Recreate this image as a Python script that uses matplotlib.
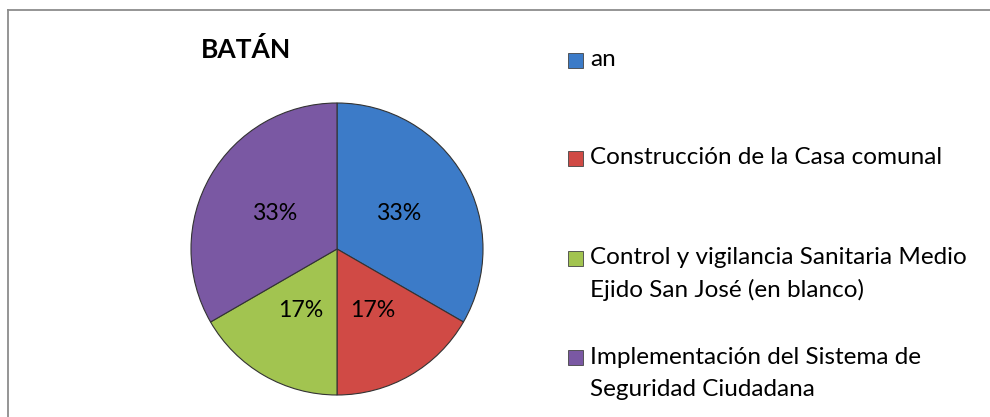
import matplotlib
matplotlib.use("Agg")
import matplotlib.pyplot as plt
from matplotlib.patches import Rectangle
from matplotlib.lines import Line2D

plt.rcParams['font.family'] = ['Lato', 'DejaVu Sans']

title = "BATÁN"
categories = [
    "an",
    "Construcción de la Casa comunal",
    "Control y vigilancia Sanitaria Medio\nEjido San José (en blanco)",
    "Implementación del Sistema de\nSeguridad Ciudadana",
]
values = [2, 1, 1, 2]
colors = ["#3C7BC8", "#D04A45", "#A2C450", "#7A58A3"]

W, H = 990, 417
fig = plt.figure(figsize=(W / 100, H / 100), dpi=100)

# border (top and left visible)
fig.add_artist(Line2D([8 / W, 8 / W], [0, 1 - 10 / H], color="#8c8c8c", lw=1.3))
fig.add_artist(Line2D([8 / W, 1], [1 - 10 / H, 1 - 10 / H], color="#8c8c8c", lw=1.3))

# pie axes
cx, cy, r = 337, 249, 146
ax = fig.add_axes([(cx - r) / W, 1 - (cy + r) / H, 2 * r / W, 2 * r / H])
wedges, texts, autotexts = ax.pie(
    values, colors=colors, startangle=90, counterclock=False,
    autopct=lambda p: f"{p:.0f}%", pctdistance=0.49,
    wedgeprops=dict(edgecolor="#333333", linewidth=0.8),
    textprops=dict(fontsize=16.7, color="black"),
)
ax.set_xlim(-1, 1)
ax.set_ylim(-1, 1)
ax.set_aspect("auto")
ax.axis("off")

# title
fig.text(246 / W, 1 - 50 / H, title, ha="center", va="center",
         fontsize=19, fontweight="bold")

# legend
first_line_y = [60, 158, 258, 357]
line_h = 32
for lab, col, y in zip(categories, colors, first_line_y):
    s = 15
    fig.add_artist(Rectangle((568 / W, 1 - (y + s / 2) / H), s / W, s / H,
                             facecolor=col, edgecolor="#444444", lw=0.6))
    lines = lab.split("\n")
    for i, ln in enumerate(lines):
        fig.text(590 / W, 1 - (y + i * line_h) / H, ln, ha="left", va="center",
                 fontsize=17.5)

fig.savefig("out.png", dpi=100)
